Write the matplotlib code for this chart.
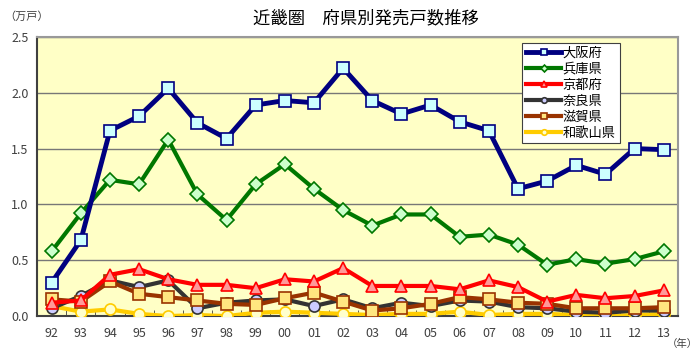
import matplotlib.pyplot as plt
import numpy as np

plt.rcParams['font.family'] = ['Noto Sans CJK JP', 'DejaVu Sans']

years = ['92', '93', '94', '95', '96', '97', '98', '99', '00', '01', '02',
         '03', '04', '05', '06', '07', '08', '09', '10', '11', '12', '13']

osaka = [0.30, 0.68, 1.66, 1.79, 2.04, 1.73, 1.59, 1.89, 1.93, 1.91, 2.22,
         1.93, 1.81, 1.89, 1.74, 1.66, 1.14, 1.21, 1.35, 1.27, 1.50, 1.49]
hyogo = [0.58, 0.92, 1.22, 1.18, 1.58, 1.09, 0.86, 1.18, 1.36, 1.14, 0.95,
         0.81, 0.91, 0.91, 0.71, 0.73, 0.64, 0.46, 0.51, 0.47, 0.51, 0.58]
kyoto = [0.12, 0.14, 0.37, 0.42, 0.33, 0.28, 0.28, 0.25, 0.33, 0.31, 0.43,
         0.27, 0.27, 0.27, 0.24, 0.32, 0.26, 0.13, 0.19, 0.16, 0.18, 0.23]
nara = [0.07, 0.18, 0.32, 0.26, 0.32, 0.07, 0.12, 0.14, 0.15, 0.09, 0.15,
        0.07, 0.12, 0.09, 0.14, 0.13, 0.08, 0.07, 0.04, 0.03, 0.05, 0.05]
shiga = [0.15, 0.13, 0.31, 0.20, 0.17, 0.14, 0.11, 0.10, 0.16, 0.21, 0.13,
         0.05, 0.07, 0.11, 0.17, 0.15, 0.12, 0.11, 0.07, 0.07, 0.07, 0.08]
wakayama = [0.09, 0.04, 0.06, 0.02, 0.00, 0.01, 0.00, 0.03, 0.04, 0.03, 0.02,
            0.01, 0.02, 0.02, 0.04, 0.01, 0.02, 0.02, 0.01, 0.00, 0.01, 0.02]

x = np.arange(len(years))

fig = plt.figure(figsize=(7, 3.58), dpi=100)
ax = fig.add_axes([0.053, 0.117, 0.916, 0.78])
ax.set_facecolor('#ffffc6')

# 描画順: 下の系列から
ax.plot(x, wakayama, color='#ffcc00', lw=3, marker='o', ms=8,
        mfc='#ffffcc', mec='#ffcc00', mew=1.2, label='和歌山県', zorder=3)
ax.plot(x, shiga, color='#993300', lw=3, marker='s', ms=8,
        mfc='#ffe680', mec='#993300', mew=1.2, label='滋賀県', zorder=4)
ax.plot(x, nara, color='#333333', lw=3, marker='o', ms=8,
        mfc='#ccccff', mec='#333333', mew=1.2, label='奈良県', zorder=3.5)
ax.plot(x, kyoto, color='#ff0000', lw=3, marker='^', ms=8,
        mfc='#ff9999', mec='#ff0000', mew=1.2, label='京都府', zorder=5)
ax.plot(x, hyogo, color='#007700', lw=3, marker='D', ms=7,
        mfc='#ccffcc', mec='#007700', mew=1.2, label='兵庫県', zorder=6)
ax.plot(x, osaka, color='#000080', lw=3.5, marker='s', ms=8.5,
        mfc='#ccffff', mec='#000080', mew=1.2, label='大阪府', zorder=7)

ax.set_xlim(-0.5, len(years) - 0.5)
ax.set_ylim(0, 2.5)
ax.set_yticks(np.arange(0, 2.51, 0.5))
ax.set_yticklabels(['0.0', '0.5', '1.0', '1.5', '2.0', '2.5'])
ax.set_xticks(x)
ax.set_xticklabels(years)
ax.set_xticks(x[:-1] + 0.5, minor=True)
ax.tick_params(axis='x', which='major', length=0, pad=8)
ax.tick_params(axis='x', which='minor', direction='in', length=4, color='#404040')
ax.tick_params(axis='y', length=0, pad=6)
ax.tick_params(labelsize=9, labelcolor='#404040')
ax.grid(axis='y', color='#777777', lw=1)
ax.set_axisbelow(True)

for s in ['left', 'bottom']:
    ax.spines[s].set_color('#404040')
    ax.spines[s].set_linewidth(1.5)
for s in ['top', 'right']:
    ax.spines[s].set_color('#999999')
    ax.spines[s].set_linewidth(1.5)

handles, labels = ax.get_legend_handles_labels()
leg = ax.legend(handles[::-1], labels[::-1], loc='upper left',
                bbox_to_anchor=(0.757, 0.978), fontsize=9.5, markerscale=0.5,
                handlelength=2.6, handletextpad=0.15, labelspacing=0.22,
                borderpad=0.3, borderaxespad=0, fancybox=False, framealpha=1,
                edgecolor='#404040', facecolor='white')
leg.get_frame().set_linewidth(0.8)

fig.text(0.523, 0.95, '近畿圏　府県別発売戸数推移', ha='center', va='center', fontsize=12.5)
fig.text(0.038, 0.955, '（万戸）', ha='center', va='center', fontsize=8, color='#404040')
fig.text(0.997, 0.04, '（年）', ha='right', va='center', fontsize=7.5, color='#404040')

fig.savefig('out.png', dpi=100)
